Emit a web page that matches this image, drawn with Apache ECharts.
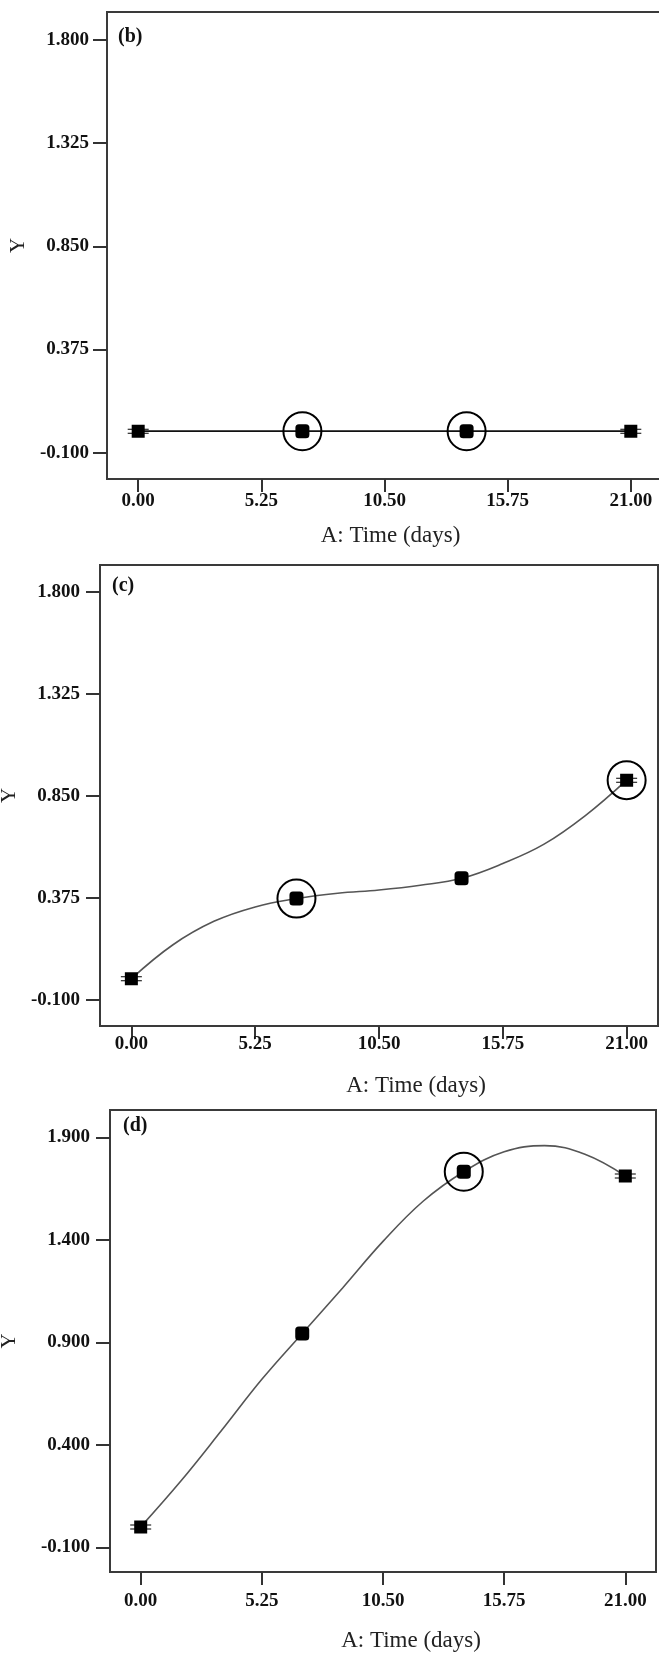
<!DOCTYPE html>
<html>
<head>
<meta charset="utf-8">
<script src="https://cdn.jsdelivr.net/npm/echarts@6/dist/echarts.min.js"></script>
<style>
  html, body { margin: 0; padding: 0; background: #fff; }
  #chart { width: 659px; height: 1654px; }
</style>
</head>
<body>
<div id="chart"></div>
<script>
// design points (days) and measured Y for each panel
const days = [0, 7, 14, 21];
const yB = [0, 0, 0, 0];
const yC = [0, 0.373, 0.467, 0.924];
const yD = [0, 0.944, 1.733, 1.712];

// fitted curve
const fitDays = [0, 1.75, 3.5, 5.25, 7, 8.75, 10.5, 12.25, 14, 15.75, 17.5, 19.25, 21];
const fitC = [0, 0.157, 0.267, 0.334, 0.373, 0.398, 0.413, 0.435, 0.467, 0.536, 0.626, 0.759, 0.924];
const fitD = [0, 0.225, 0.47, 0.72, 0.944, 1.166, 1.393, 1.59, 1.733, 1.830, 1.860, 1.818, 1.712];

// points with a circle round them
const circledB = [7, 14];
const circledC = [7, 21];
const circledD = [14];

const xTicks = [0, 5.25, 10.5, 15.75, 21];
const yTicksBC = [-0.1, 0.375, 0.85, 1.325, 1.8];
const yTicksD = [-0.1, 0.4, 0.9, 1.4, 1.9];

const FONT = 'Liberation Serif';
const endSymbol = 'path://M4,0H17V4H21V5H17V8H21V9H17V13H4V9H0V8H4V5H0V4H4Z';

let chart = echarts.init(document.getElementById('chart'), null, { renderer: 'canvas' });

function xAxisOf(gridIndex, labelMargin, nameGap, namePad) {
    return {
        type: 'value', gridIndex: gridIndex,
        min: -1.33, max: 22.33,
        axisLine: { show: false, onZero: false },
        splitLine: { show: false },
        axisTick: { customValues: xTicks, length: 13, lineStyle: { color: '#333', width: 2 } },
        axisLabel: {
            customValues: xTicks, margin: labelMargin,
            formatter: v => v.toFixed(2),
            fontFamily: FONT, fontWeight: 'bold', fontSize: 19, color: '#111'
        },
        name: 'A: Time (days)', nameLocation: 'middle', nameGap: nameGap,
        nameTextStyle: { fontFamily: FONT, fontSize: 23, color: '#222', padding: [0, 0, 0, namePad] }
    };
}

function yAxisOf(gridIndex, max, ticks, labelMargin, nameGap) {
    return {
        type: 'value', gridIndex: gridIndex,
        min: -0.22, max: max,
        axisLine: { show: false, onZero: false },
        splitLine: { show: false },
        axisTick: { customValues: ticks, length: 14, lineStyle: { color: '#333', width: 2 } },
        axisLabel: {
            customValues: ticks, margin: labelMargin,
            formatter: v => v.toFixed(3),
            fontFamily: FONT, fontWeight: 'bold', fontSize: 19, color: '#111'
        },
        name: 'Y', nameLocation: 'middle', nameGap: nameGap,
        nameTextStyle: { fontFamily: FONT, fontSize: 21, color: '#222' }
    };
}

function pointData(ys) {
    return days.map((d, i) => {
        const end = i === 0 || i === days.length - 1;
        return {
            value: [d, ys[i]],
            symbol: end ? endSymbol : 'roundRect',
            symbolSize: end ? [21, 13] : 14
        };
    });
}

function circleData(which, ys) {
    return which.map(d => [d, ys[days.indexOf(d)]]);
}

function panelSeries(idx, lineX, lineY, lineColor, ys, circled) {
    return [
        {
            type: 'line', xAxisIndex: idx, yAxisIndex: idx,
            data: lineX.map((d, i) => [d, lineY[i]]),
            smooth: lineX.length > 4 ? 0.4 : false,
            showSymbol: false,
            lineStyle: { color: lineColor, width: 1.6 },
            silent: true, z: 2
        },
        {
            type: 'scatter', xAxisIndex: idx, yAxisIndex: idx,
            data: pointData(ys),
            itemStyle: { color: '#000', opacity: 1 },
            z: 4
        },
        {
            type: 'scatter', xAxisIndex: idx, yAxisIndex: idx,
            data: circleData(circled, ys),
            symbol: 'circle', symbolSize: 38,
            itemStyle: { color: 'rgba(0,0,0,0)', borderColor: '#000', borderWidth: 2, opacity: 1 },
            z: 5
        }
    ];
}

const labelStyle = { fontFamily: FONT, fontWeight: 'bold', fontSize: 20, color: '#111' };

chart.setOption({
    backgroundColor: '#fff',
    animation: false,
    title: [
        { text: '(b)', left: 118, top: 27, padding: 0, textStyle: labelStyle },
        { text: '(c)', left: 112, top: 576, padding: 0, textStyle: labelStyle },
        { text: '(d)', left: 123, top: 1116, padding: 0, textStyle: labelStyle }
    ],
    grid: [
        { left: 107, top: 12, width: 555, height: 467, show: true, borderColor: '#3a3a3a', borderWidth: 2, outerBoundsMode: 'none' },
        { left: 100, top: 565, width: 558, height: 461, show: true, borderColor: '#3a3a3a', borderWidth: 2, outerBoundsMode: 'none' },
        { left: 110, top: 1110, width: 546, height: 462, show: true, borderColor: '#3a3a3a', borderWidth: 2, outerBoundsMode: 'none' }
    ],
    xAxis: [
        xAxisOf(0, 13, 45, 12),
        xAxisOf(1, 9, 48, 74),
        xAxisOf(2, 20, 57, 56)
    ],
    yAxis: [
        yAxisOf(0, 1.927, yTicksBC, 18, 77),
        yAxisOf(1, 1.925, yTicksBC, 20, 73),
        yAxisOf(2, 2.034, yTicksD, 20, 90)
    ],
    series: [].concat(
        panelSeries(0, days, yB, '#111', yB, circledB),
        panelSeries(1, fitDays, fitC, '#555', yC, circledC),
        panelSeries(2, fitDays, fitD, '#555', yD, circledD)
    )
});
</script>
</body>
</html>
